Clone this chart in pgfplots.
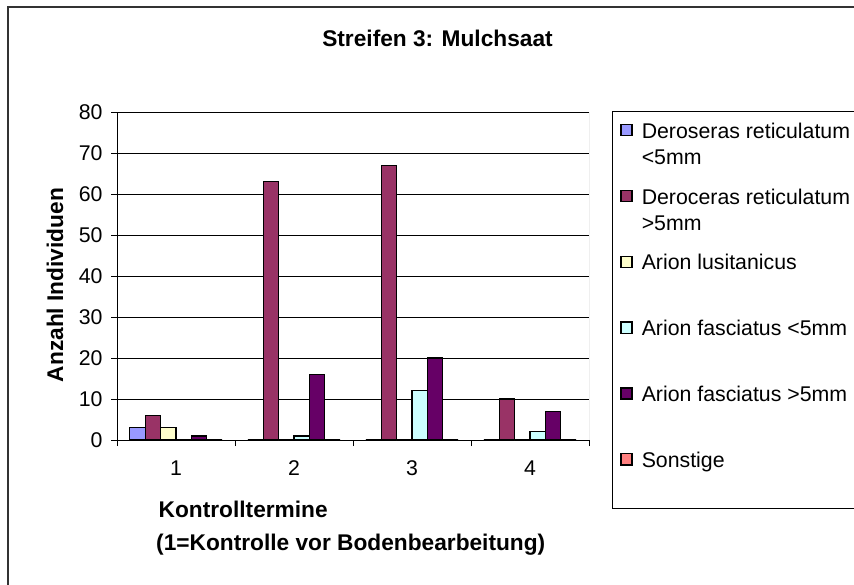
\documentclass[border=0pt]{standalone}
\usepackage{pgfplots}
\pgfplotsset{compat=1.18}
\usepackage{fontspec}
\setmainfont{Liberation Sans}
\definecolor{c1}{HTML}{9999FF}
\definecolor{c2}{HTML}{993366}
\definecolor{c3}{HTML}{FFFFCC}
\definecolor{c4}{HTML}{CCFFFF}
\definecolor{c5}{HTML}{660066}
\definecolor{c6}{HTML}{FF8080}
\newcommand{\LE}[3][65.86pt]{\vtop to #1{\hbox{#2}\hbox{#3}\vss}}
\newcommand{\LS}[2][65.86pt]{\vtop to #1{\hbox{#2}\vss}}
\newcommand{\rf}{\fontsize{21.3}{26}\selectfont}
\newcommand{\bfn}{\fontsize{22.7}{27}\selectfont\bfseries}
\begin{document}
\begin{tikzpicture}
\useasboundingbox (0pt,0pt) rectangle (854pt,584pt);
\clip (0pt,0pt) rectangle (854pt,584pt);
\draw[line width=1.3pt, black!80] (8pt,577pt) rectangle (900pt,-20pt);
\node[font=\bfn, anchor=base] at (437.5pt,537pt) {Streifen 3: Mulchsaat};
\node[font=\bfn, rotate=90, anchor=center] at (55pt,299pt) {Anzahl Individuen};
\node[font=\bfn, anchor=base west, inner sep=0pt] at (158.5pt,66.5pt) {Kontrolltermine};
\node[font=\bfn, anchor=base west, inner sep=0pt] at (156pt,34pt) {(1=Kontrolle vor Bodenbearbeitung)};
\begin{axis}[
  at={(117pt,144pt)}, anchor=south west,
  width=472pt, height=328pt, scale only axis,
  xmin=0.5, xmax=4.5, ymin=0, ymax=80,
  ybar=0pt, bar width=15.4pt,
  axis lines*=left,
  axis line style={line width=1pt, black, -},
  ytick={0,10,...,80}, xtick={1,2,3,4},
  minor xtick={0.5,1.5,2.5,3.5,4.5},
  tick align=outside,
  major tick length=6pt, minor tick length=6pt,
  tick style={black, line width=1pt},
  major x tick style={draw=none},
  ymajorgrids, major grid style={black, line width=1pt},
  /pgf/number format/assume math mode=true,
  ticklabel style={font=\rf},
  xticklabel style={yshift=-11pt},
  yticklabel style={xshift=-5pt},
  legend cell align=left,
  legend style={at={(1.048,1.004)}, anchor=north west, draw=black, line width=1pt, fill=white,
    inner xsep=7.6pt, inner ysep=11.6pt, row sep=0pt,
    nodes={inner sep=0pt, text depth=}, cells={anchor=base west}, font=\rf},
  legend image code/.code={\draw[#1,draw=black,line width=1.3pt] (0.65pt,2.65pt) rectangle (11.6pt,13.8pt); \path (0pt,0pt) (20.7pt,0pt);},
]
\addplot[fill=c1, draw=black, line width=1.3pt] coordinates {(1,3) (2,0) (3,0) (4,0)};
\addplot[fill=c2, draw=black, line width=1.3pt] coordinates {(1,6) (2,63) (3,67) (4,10)};
\addplot[fill=c3, draw=black, line width=1.3pt] coordinates {(1,3) (2,0) (3,0) (4,0)};
\addplot[fill=c4, draw=black, line width=1.3pt] coordinates {(1,0) (2,1) (3,12) (4,2)};
\addplot[fill=c5, draw=black, line width=1.3pt] coordinates {(1,1) (2,16) (3,20) (4,7)};
\addplot[fill=c6, draw=black, line width=1.3pt] coordinates {(1,0) (2,0) (3,0) (4,0)};
\legend{\LE{Deroseras reticulatum}{<5mm}, \LE{Deroceras reticulatum}{>5mm}, \LS{Arion lusitanicus}, \LS{Arion fasciatus <5mm}, \LS{Arion fasciatus >5mm}, \LS[45.3pt]{Sonstige}}
\draw[gray, line width=1pt] (rel axis cs:1,0) -- (rel axis cs:1,1);
\end{axis}
\end{tikzpicture}
\end{document}
